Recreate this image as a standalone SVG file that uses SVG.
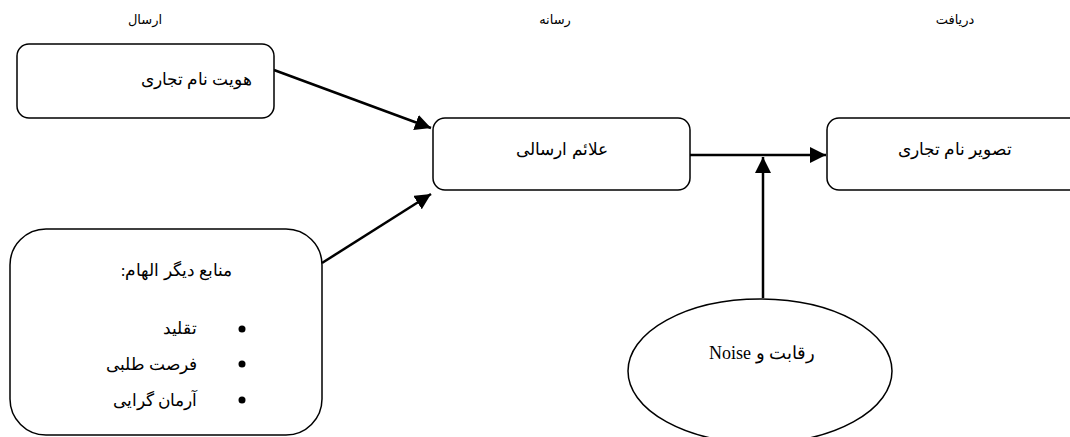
<svg xmlns="http://www.w3.org/2000/svg" width="1070" height="437" viewBox="0 0 1070 437">
<style>
.box{fill:#fff;stroke:#000;stroke-width:1.5}
.t{font-family:"Liberation Serif","DejaVu Serif",serif;font-size:17px;fill:#000}
.h{font-family:"DejaVu Sans","Liberation Sans",sans-serif;font-size:13px;fill:#000}
.c{stroke:#000;stroke-width:2.5;fill:none}
</style>
<defs>
<marker id="ah2" viewBox="0 0 10 10" refX="10" refY="5" markerWidth="16" markerHeight="16" markerUnits="userSpaceOnUse" orient="auto">
<path d="M0,0 L10,5 L0,10 z" fill="#000"/>
</marker>
</defs>
<g id="headers">
<text class="h" x="145" y="24" text-anchor="middle" direction="rtl">ارسال</text>
<text class="h" x="555" y="24" text-anchor="middle" direction="rtl">رسانه</text>
<text class="h" x="955" y="24" text-anchor="middle" direction="rtl">دریافت</text>
</g>
<g id="connectors">
<line class="c" x1="274" y1="70" x2="431" y2="128" marker-end="url(#ah2)"/>
<line class="c" x1="322" y1="263" x2="431" y2="194" marker-end="url(#ah2)"/>
<line class="c" x1="690" y1="155" x2="826" y2="155" marker-end="url(#ah2)"/>
<line class="c" x1="763" y1="298" x2="763" y2="157" marker-end="url(#ah2)"/>
</g>
<g id="brand-identity">
<rect class="box" x="17" y="44" width="257" height="74" rx="12"/>
<text class="t" x="252" y="85" text-anchor="start" direction="rtl">هویت نام تجاری</text>
</g>
<g id="signals">
<rect class="box" x="433" y="118" width="257" height="72" rx="12"/>
<text class="t" x="562" y="155" text-anchor="middle" direction="rtl">علائم ارسالی</text>
</g>
<g id="brand-image">
<rect class="box" x="827" y="118" width="260" height="72" rx="12"/>
<text class="t" x="1012" y="155" text-anchor="start" direction="rtl">تصویر نام تجاری</text>
</g>
<g id="other-sources">
<rect class="box" x="10" y="229" width="312" height="206" rx="36"/>
<text class="t" x="232" y="276" text-anchor="start" direction="rtl">منابع دیگر الهام:</text>
<circle cx="242" cy="329" r="3.5" fill="#000"/>
<circle cx="242" cy="364" r="3.5" fill="#000"/>
<circle cx="242" cy="400" r="3.5" fill="#000"/>
<text class="t" x="197" y="334" text-anchor="start" direction="rtl">تقلید</text>
<text class="t" x="197" y="370" text-anchor="start" direction="rtl">فرصت طلبی</text>
<text class="t" x="197" y="406" text-anchor="start" direction="rtl">آرمان گرایی</text>
</g>
<g id="competition">
<ellipse class="box" cx="760" cy="371" rx="132" ry="72"/>
<text class="t" x="815" y="359" text-anchor="start" direction="rtl" style="font-size:18px">رقابت و Noise</text>
</g>
</svg>
